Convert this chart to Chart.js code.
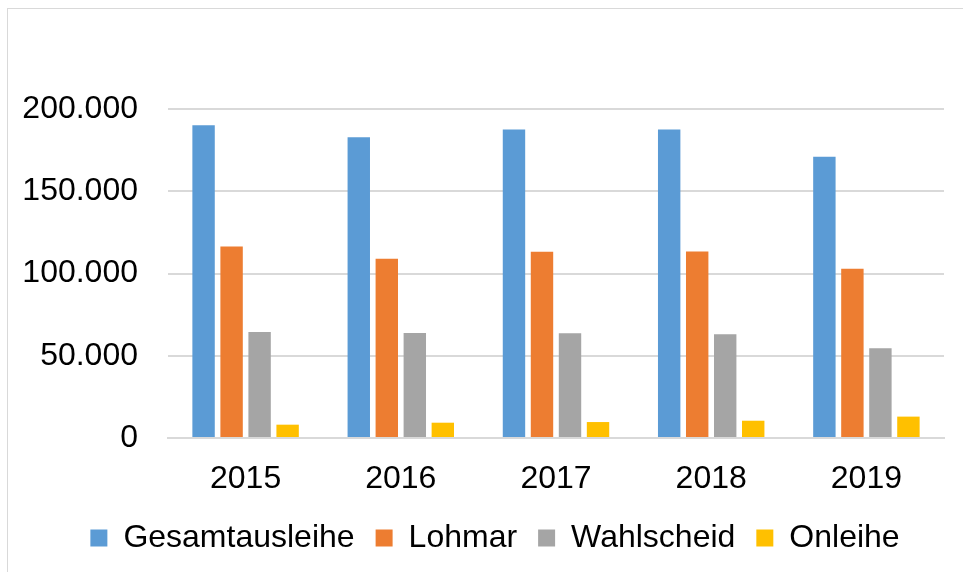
<!DOCTYPE html>
<html>
<head>
<meta charset="utf-8">
<script src="https://cdn.jsdelivr.net/npm/chart.js@4.4.1/dist/chart.umd.min.js"></script>
<style>
  html, body { margin: 0; padding: 0; background: #fff; overflow: hidden; width: 963px; height: 572px; }
  #wrap {
    position: absolute; left: 7px; top: 8px;
    width: 974px; height: 600px;
    border-left: 1px solid #d9d9d9; border-top: 1px solid #d9d9d9;
  }
</style>
</head>
<body>
<div id="wrap"><canvas id="chart"></canvas></div>
<script>
// Ausleihen pro Jahr
const years = ['2015', '2016', '2017', '2018', '2019'];
const gesamtausleihe = [190100, 182800, 187500, 187600, 171000];
const lohmar = [116400, 108900, 113200, 113400, 102900];
const wahlscheid = [64500, 63900, 63700, 63100, 54500];
const onleihe = [8100, 9300, 9700, 10500, 13000];

const SERIES = [
  { label: 'Gesamtausleihe', data: gesamtausleihe, color: '#5b9bd5' },
  { label: 'Lohmar', data: lohmar, color: '#ed7d31' },
  { label: 'Wahlscheid', data: wahlscheid, color: '#a5a5a5' },
  { label: 'Onleihe', data: onleihe, color: '#ffc000' },
];

const FONT = { family: '"Liberation Sans", Arial, sans-serif', size: 32 };
const GRID = '#d9d9d9';

// German thousands separator
const fmt = v => String(v).replace(/\B(?=(\d{3})+(?!\d))/g, '.');

// y labels are wider than the axis box we force; don't let them get clipped
const unclipY = {
  id: 'unclipY',
  afterLayout: chart => { chart.scales.y.left = 0; },
};

new Chart(document.getElementById('chart').getContext('2d'), {
  type: 'bar',
  data: {
    labels: years,
    datasets: SERIES.map(s => ({
      label: s.label,
      data: s.data,
      backgroundColor: s.color,
      borderWidth: 0,
      categoryPercentage: 0.722,
      barPercentage: 0.8,
    })),
  },
  options: {
    responsive: true,
    maintainAspectRatio: false,
    animation: false,
    layout: { padding: { top: 100, left: 38, right: 38, bottom: 45 } },
    plugins: {
      tooltip: { enabled: false },
      legend: {
        position: 'bottom',
        labels: {
          color: '#000',
          font: FONT,
          boxWidth: 17,
          boxHeight: 17,
          padding: 21,
        },
      },
    },
    scales: {
      x: {
        grid: { display: false, drawTicks: false },
        border: { display: true, color: GRID, width: 2 },
        ticks: { color: '#000', font: FONT, padding: 22 },
        afterFit: s => { s.height = 63; },
      },
      y: {
        min: 0,
        max: 200000,
        grid: { color: GRID, lineWidth: 2, drawTicks: false },
        border: { display: false },
        ticks: { stepSize: 50000, color: '#000', font: FONT, padding: 30, callback: v => fmt(v) },
        afterFit: s => { s.width = 122; },
      },
    },
  },
  plugins: [unclipY],
});
</script>
</body>
</html>
